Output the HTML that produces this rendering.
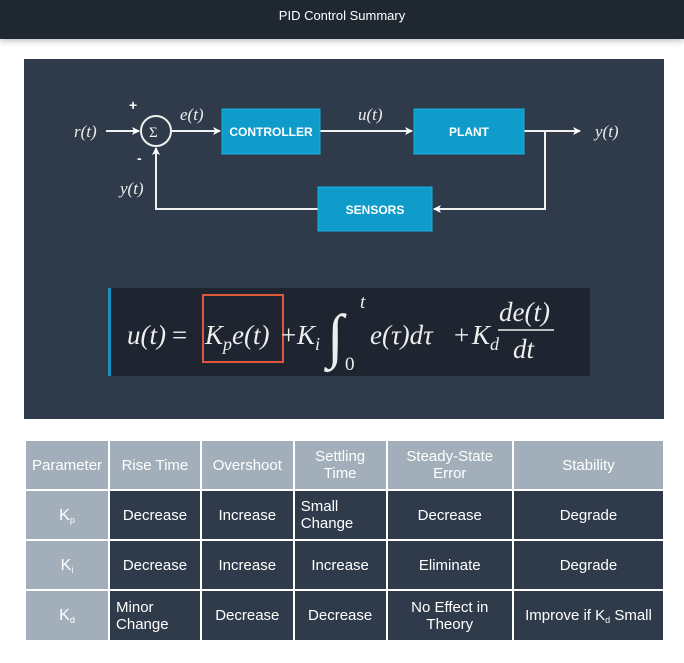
<!DOCTYPE html>
<html><head><meta charset="utf-8"><style>
*{margin:0;padding:0;box-sizing:border-box}
body{width:684px;height:663px;background:#fff;position:relative;overflow:hidden;font-family:"Liberation Sans","DejaVu Sans",sans-serif}
#topbar{position:absolute;left:0;top:0;width:684px;height:39px;background:#1f2731;color:#fff;font-size:13px;text-align:center;line-height:32px;box-shadow:0 2px 6px rgba(0,0,0,.25)}
#panel{position:absolute;left:24px;top:59px;width:640px;height:360px;background:#2f3b4a}
table{position:absolute;left:24px;top:439px;width:641px;height:203px;border-collapse:collapse;font-size:15px;text-align:center}
td{border:2px solid #fff;color:#fff;background:#2f3b4a;padding:0 6px;line-height:17px}
tr.h td{background:#a2afbb;color:#fff}
td.p{background:#a2afbb;font-size:16px}
sub{font-size:9px;vertical-align:-3px;line-height:0}
</style></head><body>
<div id="topbar">PID Control Summary</div>
<div id="panel"></div>
<svg width="684" height="663" style="position:absolute;left:0;top:0">
<defs><marker id="a" markerWidth="8" markerHeight="8" refX="7" refY="4" orient="auto" markerUnits="userSpaceOnUse"><path d="M0,0 L8,4 L0,8 L2,4z" fill="#fff"/></marker></defs>
<g stroke="#f0f0f0" stroke-width="2" fill="none">
<line x1="106" y1="131" x2="139" y2="131" marker-end="url(#a)"/>
<circle cx="156" cy="131" r="15"/>
<line x1="171" y1="131" x2="220" y2="131" marker-end="url(#a)"/>
<line x1="320" y1="131" x2="412" y2="131" marker-end="url(#a)"/>
<line x1="524" y1="131" x2="580" y2="131" marker-end="url(#a)"/>
<polyline points="545,131 545,209 434,209" marker-end="url(#a)"/>
<polyline points="318,209 156,209 156,148" marker-end="url(#a)"/>
</g>
<g><rect x="222" y="109" width="98" height="45" fill="#0f9ccb" stroke="#1ab0e0"/><text x="271" y="136" fill="#fff" font-size="12" font-weight="bold" text-anchor="middle">CONTROLLER</text></g>
<g><rect x="414" y="109" width="110" height="45" fill="#0f9ccb" stroke="#1ab0e0"/><text x="469" y="136" fill="#fff" font-size="12" font-weight="bold" text-anchor="middle">PLANT</text></g>
<g><rect x="318" y="187" width="114" height="44" fill="#0f9ccb" stroke="#1ab0e0"/><text x="375" y="214" fill="#fff" font-size="12" font-weight="bold" text-anchor="middle">SENSORS</text></g>
<g fill="#eee" font-family="Liberation Serif,serif" font-style="italic" font-size="17">
<text x="74" y="137">r(t)</text>
<text x="180" y="120">e(t)</text>
<text x="358" y="120">u(t)</text>
<text x="595" y="137">y(t)</text>
<text x="120" y="194">y(t)</text>
<text x="149" y="137" font-style="normal" font-size="15">Σ</text>
</g>
<text x="129" y="110" fill="#fff" font-size="14" font-weight="bold">+</text>
<text x="137" y="163" fill="#fff" font-size="14" font-weight="bold">-</text>
<g>
<rect x="108" y="288" width="482" height="88" fill="#1e2530"/>
<rect x="108" y="288" width="3" height="88" fill="#1a90c0"/>
<rect x="203" y="295" width="80" height="67" fill="none" stroke="#e0583c" stroke-width="2"/>
<g fill="#eee" font-family="DejaVu Serif,Liberation Serif,serif" font-size="25">
<text x="127" y="344" font-style="italic" font-family="Liberation Serif,serif" font-size="27">u(t)</text>
<text x="172" y="344" font-family="Liberation Serif,serif" font-size="27">=</text>
<text x="205" y="344" font-style="italic" font-family="Liberation Serif,serif" font-size="27">K<tspan font-size="18" dy="6">p</tspan><tspan dy="-6">e(t)</tspan></text>
<text x="281" y="344" font-family="Liberation Serif,serif" font-size="27">+</text>
<text x="297" y="344" font-style="italic" font-family="Liberation Serif,serif" font-size="27">K<tspan font-size="18" dy="6">i</tspan></text>
<text x="327" y="356" font-size="60" font-family="Liberation Serif,serif">∫</text>
<text x="360" y="308" font-size="19" font-style="italic" font-family="Liberation Serif,serif">t</text>
<text x="345" y="370" font-size="19" font-family="Liberation Serif,serif">0</text>
<text x="370" y="344" font-style="italic" font-family="Liberation Serif,serif" font-size="27">e(τ)dτ</text>
<text x="454" y="344" font-family="Liberation Serif,serif" font-size="27">+</text>
<text x="472" y="344" font-style="italic" font-family="Liberation Serif,serif" font-size="27">K<tspan font-size="18" dy="6">d</tspan></text>
<text x="499" y="321" font-style="italic" font-family="Liberation Serif,serif" font-size="27">de(t)</text>
<line x1="498" y1="330" x2="554" y2="330" stroke="#eee" stroke-width="1.5"/>
<text x="513" y="358" font-style="italic" font-family="Liberation Serif,serif" font-size="27">dt</text>
</g></g>
</svg>
<table>
<colgroup><col style="width:84px"><col style="width:92px"><col style="width:93px"><col style="width:93px"><col style="width:127px"><col style="width:152px"></colgroup>
<tr class="h" style="height:50px"><td>Parameter</td><td>Rise Time</td><td>Overshoot</td><td>Settling<br>Time</td><td>Steady-State<br>Error</td><td>Stability</td></tr>
<tr style="height:50px"><td class="p">K<sub>p</sub></td><td>Decrease</td><td>Increase</td><td style="text-align:left">Small<br>Change</td><td>Decrease</td><td>Degrade</td></tr>
<tr style="height:50px"><td class="p">K<sub>i</sub></td><td>Decrease</td><td>Increase</td><td>Increase</td><td>Eliminate</td><td>Degrade</td></tr>
<tr style="height:51px"><td class="p">K<sub>d</sub></td><td style="text-align:left">Minor<br>Change</td><td>Decrease</td><td>Decrease</td><td>No Effect in<br>Theory</td><td>Improve if K<sub>d</sub> Small</td></tr>
</table>
</body></html>
